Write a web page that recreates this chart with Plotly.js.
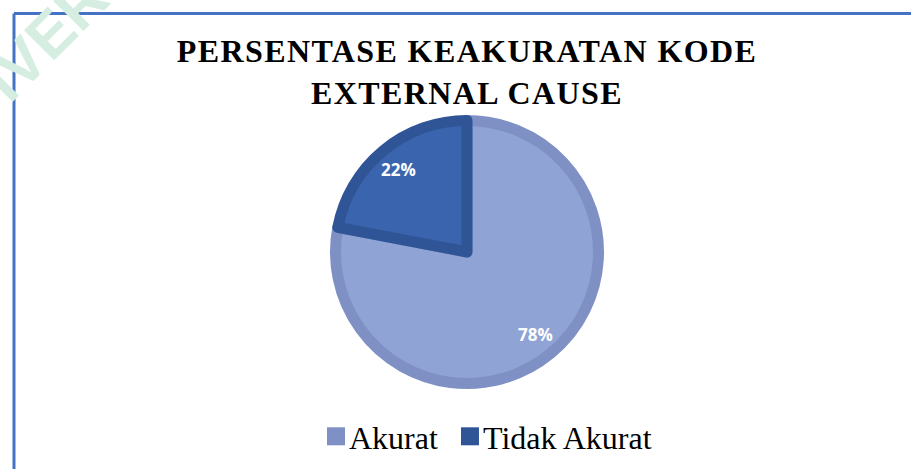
<!DOCTYPE html>
<html>
<head>
<meta charset="utf-8">
<script src="https://cdn.plot.ly/plotly-3.0.1.min.js"></script>
<style>
  html, body { margin: 0; padding: 0; background: #ffffff; }
  #chart { width: 911px; height: 469px; }
  .gtitle { letter-spacing: 1.4px; }
  .legendpie { transform: translate(27px, 0px) scale(1.5); stroke-width: 0 !important; }
  .legend .traces:nth-of-type(1) .legendpie { fill: #7F91C4 !important; }
  .legend .traces:nth-of-type(2) .legendpie { fill: #2F5597 !important; }
</style>
</head>
<body>
<div id="chart"></div>
<script>
const categories = ["Akurat", "Tidak Akurat"];
const percentValues = [78, 22];
const fillColors = ["#8FA3D5", "#3A64AD"];
const borderColors = ["#7F91C4", "#2F5597"];

const W = 911, H = 469;
const cx = 467, cy = 252;
const lineW = 11;
const R = 137 - lineW / 2;

const total = percentValues.reduce((a, b) => a + b, 0);

const pie = {
  type: "pie",
  labels: categories,
  values: percentValues,
  sort: false,
  direction: "clockwise",
  rotation: 0,
  textinfo: "none",
  textposition: "none",
  marker: { colors: fillColors, line: { color: borderColors, width: lineW } },
  domain: { x: [(cx - R) / W, (cx + R) / W], y: [(H - cy - R) / H, (H - cy + R) / H] },
  hoverinfo: "label+percent"
};

// percentage labels placed along each slice's bisector (derived from the data)
const labelAnnotations = [];
let cum = 0;
percentValues.forEach((v, i) => {
  const mid = (cum + v / 2) / total * 2 * Math.PI;
  cum += v;
  const rr = 0.78 * 137;
  const px = cx + rr * Math.sin(mid);
  const py = cy - rr * Math.cos(mid);
  labelAnnotations.push({
    text: Math.round(v / total * 100) + "%",
    xref: "paper", yref: "paper", x: px / W, y: 1 - py / H,
    xanchor: "center", yanchor: "middle", showarrow: false,
    font: { family: "Open Sans, Noto Sans, sans-serif", size: 17, color: "#ffffff", weight: 700 }
  });
});

const layout = {
  width: W, height: H,
  margin: { l: 0, r: 0, t: 0, b: 0 },
  paper_bgcolor: "#ffffff",
  title: {
    text: "PERSENTASE KEAKURATAN KODE<br>EXTERNAL CAUSE",
    font: { family: "Liberation Serif, Times New Roman, serif", size: 32, color: "#000000", weight: 700 },
    x: 467 / W, xanchor: "center",
    y: 1 - 62 / H, yanchor: "top", yref: "container"
  },
  showlegend: true,
  legend: {
    orientation: "h",
    x: 483 / W, xanchor: "center",
    y: 1 - 409 / H, yanchor: "top",
    font: { family: "Liberation Serif, Times New Roman, serif", size: 32, color: "#000000" },
    traceorder: "normal"
  },
  shapes: [
    { type: "line", xref: "paper", yref: "paper", x0: 14 / W, x1: 1, y0: 1 - 13.5 / H, y1: 1 - 13.5 / H, line: { color: "#4472C4", width: 3 } },
    { type: "line", xref: "paper", yref: "paper", x0: 14 / W, x1: 14 / W, y0: 0, y1: 1 - 13.5 / H, line: { color: "#4472C4", width: 3 } }
  ],
  annotations: [
    { text: "IVERSITAS", xref: "paper", yref: "paper", x: -33 / W, y: 1 + 25 / H, xanchor: "left", yanchor: "middle",
      textangle: -45, showarrow: false,
      font: { family: "Liberation Sans, DejaVu Sans, sans-serif", size: 62, color: "#D6EEE1", weight: 700 } }
  ].concat(labelAnnotations)
};

Plotly.newPlot("chart", [pie], layout, { displayModeBar: false, staticPlot: true });
</script>
</body>
</html>
